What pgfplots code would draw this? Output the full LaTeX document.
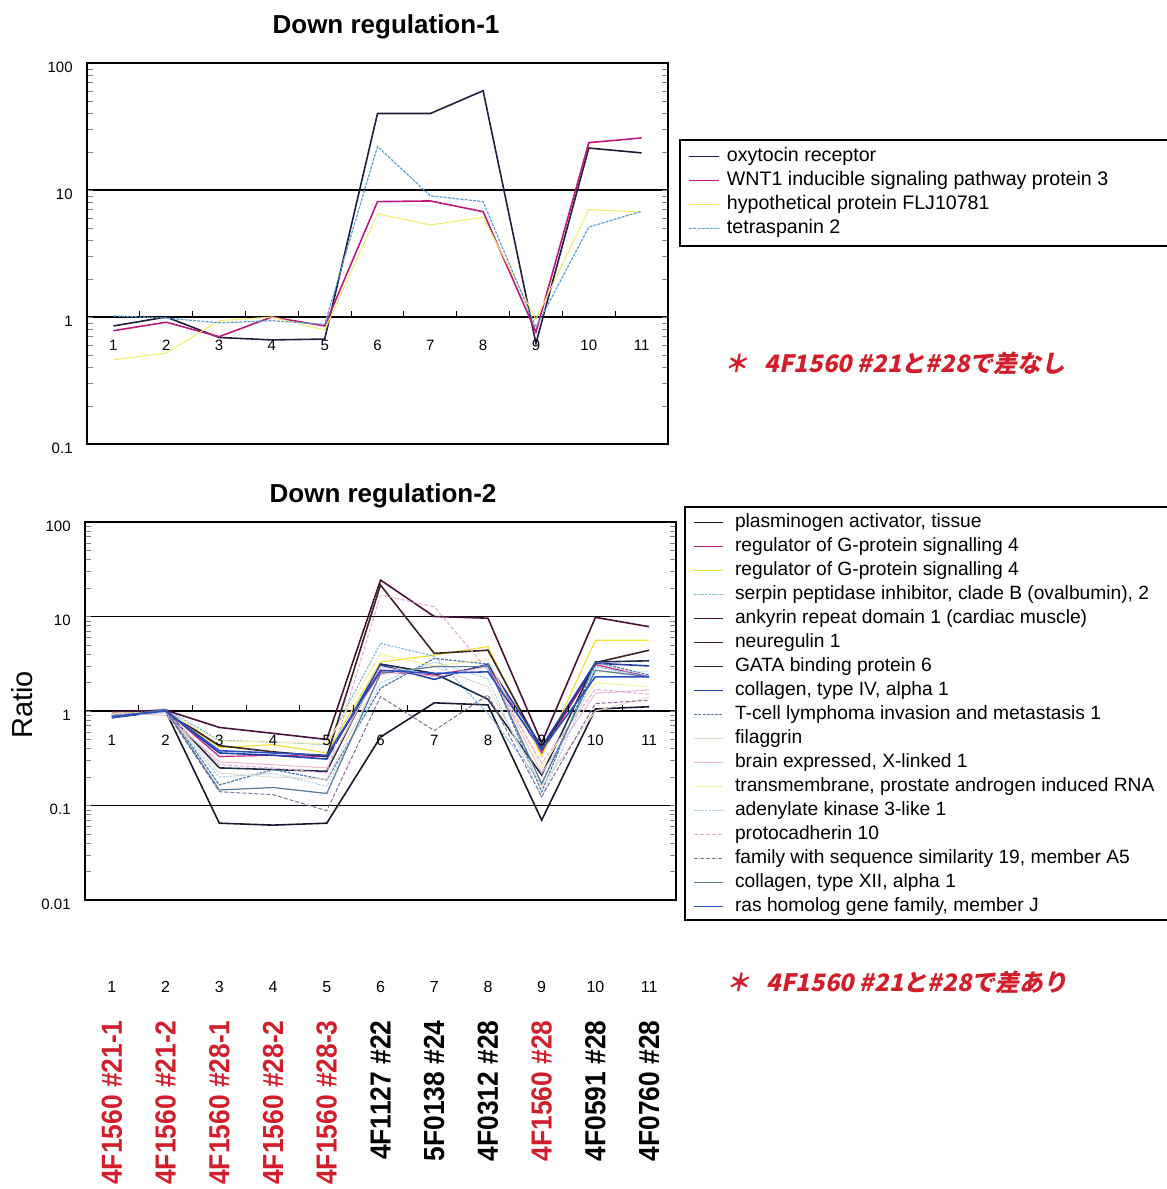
\documentclass[border=0pt]{standalone}
\usepackage{pgfplots}
\pgfplotsset{compat=1.18}
\usepackage{pgfplotstable}
\usepackage{graphicx}
\usepackage{fontspec}
\setmainfont{Liberation Sans}
\newfontfamily\cjk[FakeSlant=0.2]{Noto Sans CJK JP}

\definecolor{jred}{RGB}{210,30,42}
\definecolor{t1}{HTML}{1E1E3C}
\definecolor{t2}{HTML}{C0187C}
\definecolor{t3}{HTML}{F2EC60}
\definecolor{t4}{HTML}{5AA0D2}
\definecolor{s1}{HTML}{1A1A2E}
\definecolor{s2}{HTML}{C02080}
\definecolor{s3}{HTML}{F0E030}
\definecolor{s4}{HTML}{78B4E0}
\definecolor{s5}{HTML}{4A1238}
\definecolor{s6}{HTML}{3C2424}
\definecolor{s7}{HTML}{1E2E44}
\definecolor{s8}{HTML}{2040B0}
\definecolor{s9}{HTML}{4A7AB0}
\definecolor{s10}{HTML}{E8D8C8}
\definecolor{s11}{HTML}{F0B8D0}
\definecolor{s12}{HTML}{F4F0A0}
\definecolor{s13}{HTML}{A8D0E8}
\definecolor{s14}{HTML}{E0A8D8}
\definecolor{s15}{HTML}{8A6A9A}
\definecolor{s16}{HTML}{5A7898}
\definecolor{s17}{HTML}{2850C0}

\pgfplotstableread{
x oxy wnt flj tsp
1 0.85 0.78 0.46 1.02
2 1.0 0.91 0.52 0.98
3 0.69 0.70 0.935 0.90
4 0.66 1.0 1.0 0.935
5 0.67 0.85 0.79 0.875
6 40 8.1 6.5 22
7 40 8.2 5.3 9.0
8 60.5 6.75 6.1 8.1
9 0.62 0.76 0.96 0.83
10 21.4 23.6 7.0 5.1
11 19.6 25.7 6.7 6.8
}\topdata

\pgfplotstableread{
x s1 s2 s3 s4 s5 s6 s7 s8 s9 s10 s11 s12 s13 s14 s15 s16 s17
1 0.93 0.88 0.9 0.92 0.98 0.9 0.85 0.86 0.84 0.9 0.95 0.95 0.9 0.92 0.88 0.87 0.87
2 1.0 1.02 1.0 1.05 1.02 1.0 1.0 1.0 1.05 0.97 0.9 0.97 0.95 0.98 1.0 1.03 1.0
3 0.065 0.33 0.41 0.49 0.67 0.43 0.25 0.36 0.165 0.22 0.29 0.48 0.2 0.27 0.14 0.146 0.38
4 0.062 0.34 0.44 0.47 0.58 0.37 0.24 0.34 0.24 0.2 0.27 0.47 0.22 0.25 0.13 0.155 0.36
5 0.065 0.33 0.36 0.44 0.5 0.33 0.23 0.31 0.186 0.19 0.25 0.45 0.16 0.22 0.088 0.134 0.34
6 0.53 2.6 3.3 5.2 24.3 21.5 3.14 3.07 1.74 2.4 2.95 4.0 2.0 16.9 1.42 2.5 2.7
7 1.22 2.4 3.9 3.8 10.0 4.07 2.5 2.16 3.6 2.95 2.3 3.0 3.3 12.7 0.62 2.95 2.5
8 1.16 3.0 4.8 0.94 9.6 4.4 1.33 3.14 3.14 1.8 2.95 3.5 2.2 2.7 1.48 2.95 2.6
9 0.07 0.36 0.33 0.17 0.46 0.39 0.21 0.42 0.14 0.16 0.22 0.25 0.12 0.28 0.124 0.17 0.39
10 1.05 3.1 5.6 2.95 9.8 3.25 3.3 3.2 3.3 1.0 1.54 2.0 2.6 1.7 1.2 2.7 2.3
11 1.11 2.3 5.6 2.3 7.8 4.4 3.4 3.0 2.4 1.4 1.67 1.8 2.6 1.5 1.3 2.3 2.3
}\botdata

\begin{document}
\begin{tikzpicture}
\useasboundingbox (0,0) rectangle (583.5pt,594.5pt);

% ---------- top chart ----------
\node[font=\bfseries\fontsize{13}{15}\selectfont] at (193pt,581pt) {Down regulation-1};
\begin{axis}[anchor=south west, at={(43.5pt,372.5pt)}, scale only axis, width=290.5pt, height=190.5pt,
  xmin=0.5, xmax=11.5, ymode=log, ymin=0.1, ymax=100, ytick={0.1,1,10,100},
  xtick=\empty,
  log ticks with fixed point,
  /pgf/number format/assume math mode=true,
  ymajorgrids, grid style={black, line width=0.6pt},
  major tick length=0pt,
  axis line style={line width=0.6pt},
  yticklabel style={font=\fontsize{7.5}{9}\selectfont, anchor=east, inner sep=0pt, xshift=-7pt, yshift=-2pt},
  legend cell align=left,
  legend image code/.code={\draw[#1] (0pt,0pt) -- (15pt,0pt);},
  legend style={at={(1.0344,0.787)}, anchor=north west, draw=none, fill=none,
    inner sep=0pt, row sep=0pt, column sep=3.5pt,
    font=\fontsize{9.8}{12}\selectfont,
    nodes={inner xsep=0pt, inner ysep=1pt, text height=7.5pt, text depth=2.5pt}},
]
\addplot[t1, line width=0.8pt] table[x=x, y=oxy] {\topdata};
\addlegendentry{oxytocin receptor}
\addplot[t2, line width=0.8pt] table[x=x, y=wnt] {\topdata};
\addlegendentry{WNT1 inducible signaling pathway protein 3}
\addplot[t3, line width=0.5pt] table[x=x, y=flj] {\topdata};
\addlegendentry{hypothetical protein FLJ10781}
\addplot[t4, line width=0.6pt, dash pattern=on 1.5pt off 0.6pt] table[x=x, y=tsp] {\topdata};
\addlegendentry{tetraspanin 2}
\end{axis}
\begin{axis}[anchor=south west, at={(43.5pt,372.5pt)}, scale only axis, width=290.5pt, height=190.5pt,
  xmin=0.5, xmax=11.5, ymin=-1, ymax=2,
  axis x line=middle, axis y line=none,
  axis line style={draw=none},
  xtick={1.5,2.5,...,10.5}, xticklabels={},
  major tick length=3pt, tick align=center,
  xtick style={black, line width=0.5pt, yshift=1.5pt},
  extra x ticks={1,2,3,4,5,6,7,8,9,10,11},
  extra x tick labels={1,2,3,4,5,6,7,8,9,10,11},
  /pgf/number format/assume math mode=true,
  xticklabel style={font=\fontsize{7.5}{9}\selectfont},
  extra x tick style={major tick length=0pt, xticklabel style={anchor=center, yshift=-14pt}},
]
\end{axis}
\draw[line width=0.6pt] (583.5pt,524.5pt) -- (340pt,524.5pt) -- (340pt,471.5pt) -- (583.5pt,471.5pt);
\node[anchor=west, text=jred, font=\cjk\bfseries\fontsize{12}{14}\selectfont] at (358.5pt,413pt) {＊\hspace{0.7em}4F1560 \#21と\#28で差なし};

% ---------- bottom chart ----------
\node[font=\bfseries\fontsize{13}{15}\selectfont] at (191.5pt,346.5pt) {Down regulation-2};
\node[rotate=90, font=\fontsize{14.5}{16}\selectfont] at (11pt,242pt) {Ratio};
\begin{axis}[anchor=south west, at={(42.5pt,144.5pt)}, scale only axis, width=295.5pt, height=189pt,
  xmin=0.5, xmax=11.5, ymode=log, ymin=0.01, ymax=100, ytick={0.01,0.1,1,10,100},
  xtick=\empty,
  log ticks with fixed point,
  /pgf/number format/assume math mode=true,
  ymajorgrids, grid style={black, line width=0.6pt},
  major tick length=0pt,
  axis line style={line width=0.6pt},
  yticklabel style={font=\fontsize{7.5}{9}\selectfont, anchor=east, inner sep=0pt, xshift=-7pt, yshift=-2pt},
  legend cell align=left,
  legend image code/.code={\draw[#1] (0pt,0pt) -- (14.5pt,0pt);},
  legend style={at={(1.0288,1.032)}, anchor=north west, draw=none, fill=none,
    inner sep=0pt, row sep=0pt, column sep=5.5pt,
    font=\fontsize{9.6}{12}\selectfont,
    nodes={inner xsep=0pt, inner ysep=1pt, text height=7.5pt, text depth=2.5pt}},
]
\addplot[s1, line width=0.8pt] table[x=x, y=s1] {\botdata};
\addlegendentry{plasminogen activator, tissue}
\addplot[s2, line width=0.6pt] table[x=x, y=s2] {\botdata};
\addlegendentry{regulator of G-protein signalling 4}
\addplot[s3, line width=0.6pt] table[x=x, y=s3] {\botdata};
\addlegendentry{regulator of G-protein signalling 4}
\addplot[s4, line width=0.5pt, dash pattern=on 1.2pt off 0.6pt] table[x=x, y=s4] {\botdata};
\addlegendentry{serpin peptidase inhibitor, clade B (ovalbumin), 2}
\addplot[s5, line width=0.8pt] table[x=x, y=s5] {\botdata};
\addlegendentry{ankyrin repeat domain 1 (cardiac muscle)}
\addplot[s6, line width=0.8pt] table[x=x, y=s6] {\botdata};
\addlegendentry{neuregulin 1}
\addplot[s7, line width=0.8pt] table[x=x, y=s7] {\botdata};
\addlegendentry{GATA binding protein 6}
\addplot[s8, line width=0.8pt] table[x=x, y=s8] {\botdata};
\addlegendentry{collagen, type IV, alpha 1}
\addplot[s9, line width=0.6pt, dash pattern=on 1.5pt off 0.6pt] table[x=x, y=s9] {\botdata};
\addlegendentry{T-cell lymphoma invasion and metastasis 1}
\addplot[s10, line width=0.5pt] table[x=x, y=s10] {\botdata};
\addlegendentry{filaggrin}
\addplot[s11, line width=0.5pt] table[x=x, y=s11] {\botdata};
\addlegendentry{brain expressed, X-linked 1}
\addplot[s12, line width=0.5pt] table[x=x, y=s12] {\botdata};
\addlegendentry{transmembrane, prostate androgen induced RNA}
\addplot[s13, line width=0.5pt, dash pattern=on 1.2pt off 0.6pt] table[x=x, y=s13] {\botdata};
\addlegendentry{adenylate kinase 3-like 1}
\addplot[s14, line width=0.5pt, dash pattern=on 2pt off 1pt] table[x=x, y=s14] {\botdata};
\addlegendentry{protocadherin 10}
\addplot[s15, line width=0.5pt, dash pattern=on 2pt off 1pt] table[x=x, y=s15] {\botdata};
\addlegendentry{family with sequence similarity 19, member A5}
\addplot[s16, line width=0.6pt] table[x=x, y=s16] {\botdata};
\addlegendentry{collagen, type XII, alpha 1}
\addplot[s17, line width=0.8pt] table[x=x, y=s17] {\botdata};
\addlegendentry{ras homolog gene family, member J}
\end{axis}
\begin{axis}[anchor=south west, at={(42.5pt,144.5pt)}, scale only axis, width=295.5pt, height=189pt,
  xmin=0.5, xmax=11.5, ymin=-2, ymax=2,
  axis x line=middle, axis y line=none,
  axis line style={draw=none},
  xtick={1.5,2.5,...,10.5}, xticklabels={},
  major tick length=3pt, tick align=center,
  xtick style={black, line width=0.5pt, yshift=1.5pt},
  extra x ticks={1,2,3,4,5,6,7,8,9,10,11},
  extra x tick labels={1,2,3,4,5,6,7,8,9,10,11},
  /pgf/number format/assume math mode=true,
  xticklabel style={font=\fontsize{7.5}{9}\selectfont},
  extra x tick style={major tick length=0pt, xticklabel style={anchor=center, yshift=-14.5pt}},
]
\end{axis}
\draw[line width=0.6pt] (583.5pt,341pt) -- (342.5pt,341pt) -- (342.5pt,134.5pt) -- (583.5pt,134.5pt);
\node[anchor=west, text=jred, font=\cjk\bfseries\fontsize{12}{14}\selectfont] at (359.5pt,103.5pt) {＊\hspace{0.7em}4F1560 \#21と\#28で差あり};

% ---------- category labels ----------
\foreach \i/\lab/\col in {1/4F1560 \#21-1/jred, 2/4F1560 \#21-2/jred, 3/4F1560 \#28-1/jred,
  4/4F1560 \#28-2/jred, 5/4F1560 \#28-3/jred, 6/4F1127 \#22/black, 7/5F0138 \#24/black,
  8/4F0312 \#28/black, 9/4F1560 \#28/jred, 10/4F0591 \#28/black, 11/4F0760 \#28/black}{
  \node[font=\fontsize{8}{10}\selectfont] at ({(42.5+(\i-0.5)*26.864)*1pt},101pt) {\i};
  \node[rotate=90, anchor=east, inner sep=0pt, text=\col, font=\bfseries\fontsize{14.5}{16}\selectfont]
    at ({(42.5+(\i-0.5)*26.864)*1pt},84.5pt) {\scalebox{0.91}[1]{\lab}};
}
\end{tikzpicture}
\end{document}
